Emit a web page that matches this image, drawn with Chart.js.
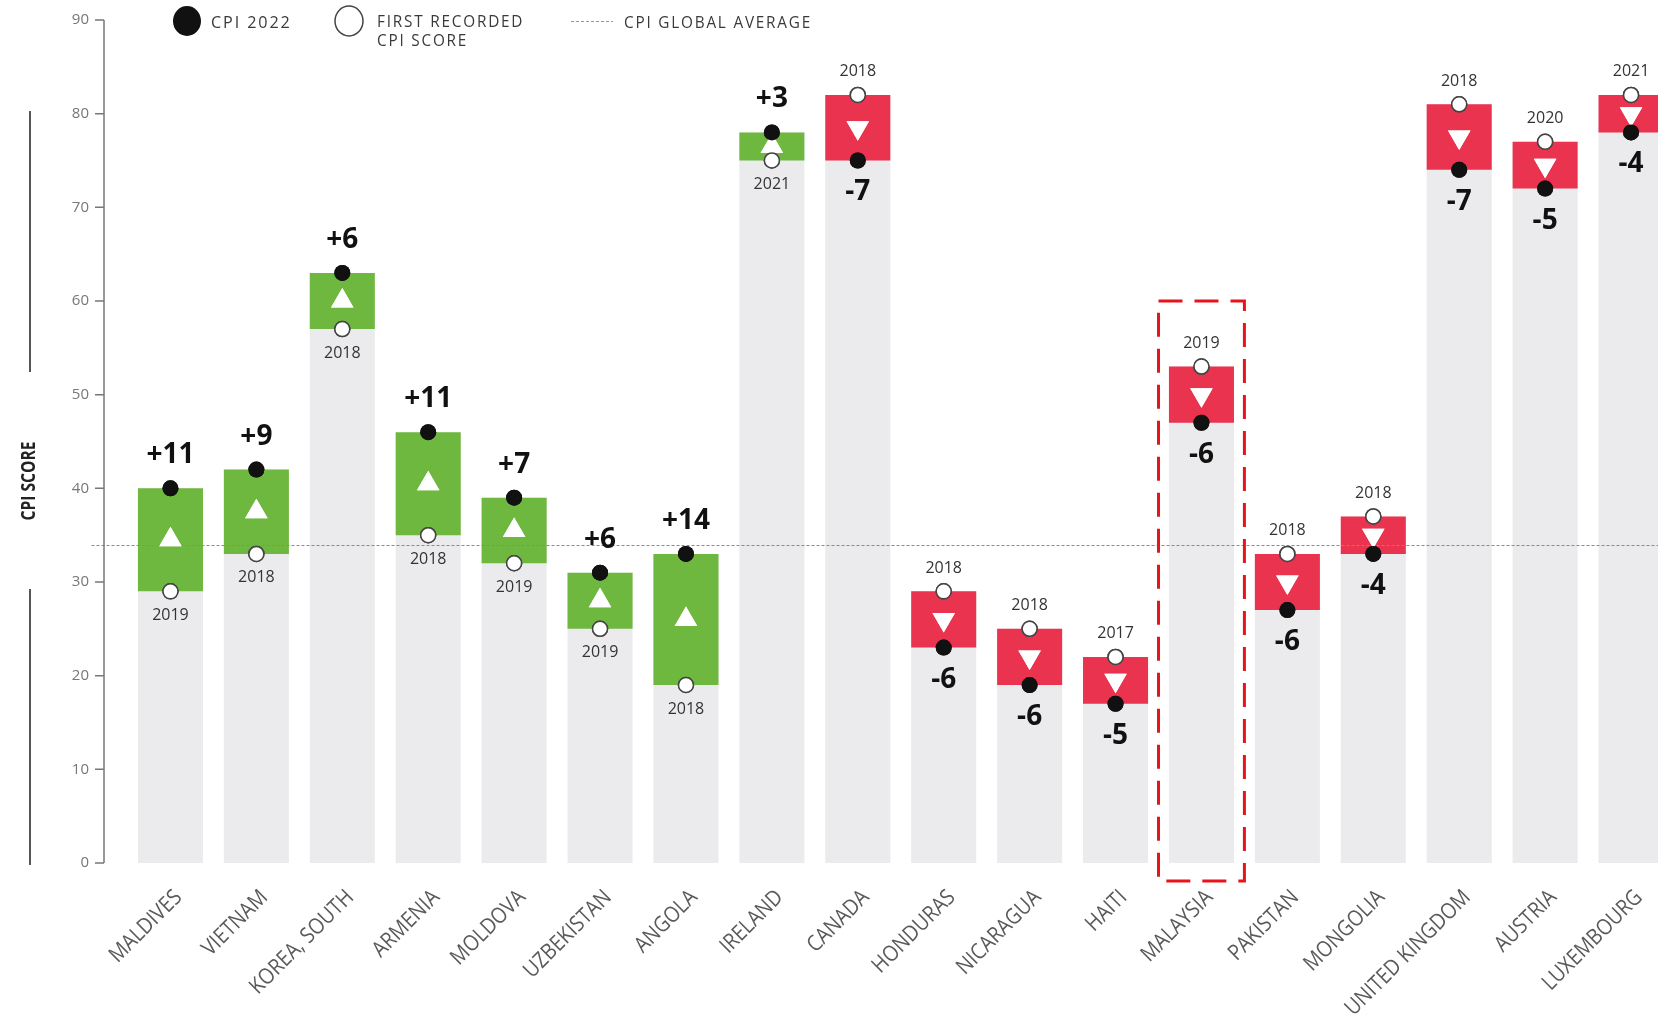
<!DOCTYPE html>
<html>
<head>
<meta charset="utf-8">
<script src="https://cdn.jsdelivr.net/npm/chart.js@4.4.1/dist/chart.umd.min.js"></script>
<style>
  html, body { margin: 0; padding: 0; background: #fff; overflow: hidden; }
  #wrap { width: 1658px; height: 1022px; overflow: hidden; position: relative; }
  #box { position: absolute; left: 0; top: 0; width: 1700px; height: 1022px; }
</style>
</head>
<body>
<div id="wrap"><div id="box"><canvas id="cpi"></canvas></div></div>
<script>
const countries = ['MALDIVES', 'VIETNAM', 'KOREA, SOUTH', 'ARMENIA', 'MOLDOVA', 'UZBEKISTAN', 'ANGOLA', 'IRELAND', 'CANADA',
  'HONDURAS', 'NICARAGUA', 'HAITI', 'MALAYSIA', 'PAKISTAN', 'MONGOLIA', 'UNITED KINGDOM', 'AUSTRIA', 'LUXEMBOURG'];
const cpi2022 = [40, 42, 63, 46, 39, 31, 33, 78, 75, 23, 19, 17, 47, 27, 33, 74, 72, 78];
const firstScore = [29, 33, 57, 35, 32, 25, 19, 75, 82, 29, 25, 22, 53, 33, 37, 81, 77, 82];
const firstYear = ['2019', '2018', '2018', '2018', '2019', '2019', '2018', '2021', '2018',
  '2018', '2018', '2017', '2019', '2018', '2018', '2018', '2020', '2021'];
const yTicks = [0, 10, 20, 30, 40, 50, 60, 70, 80, 90];
const globalAverage = 34;
const highlighted = 'MALAYSIA';

const GREEN = '#6fb83f', RED = '#e9334f', GREY = '#ebebed';
const SANS = "'Open Sans', sans-serif";

const rising = cpi2022.map((v, i) => v >= firstScore[i]);
const low = cpi2022.map((v, i) => Math.min(v, firstScore[i]));
const high = cpi2022.map((v, i) => Math.max(v, firstScore[i]));

// narrow text: squeeze glyphs horizontally around the anchor
function narrowText(ctx, text, x, y, sx) {
  ctx.save();
  ctx.translate(x, y);
  ctx.scale(sx, 1);
  ctx.fillText(text, 0, 0);
  ctx.restore();
}

const decor = {
  id: 'decor',
  afterDatasetsDraw(chart) {
    const { ctx, chartArea: a, scales: { x, y } } = chart;
    ctx.save();
    // global average
    const gy = Math.round(y.getPixelForValue(globalAverage)) + 0.5;
    ctx.strokeStyle = '#8a8a8a'; ctx.lineWidth = 1; ctx.setLineDash([3, 2]);
    ctx.beginPath(); ctx.moveTo(a.left - 36, gy); ctx.lineTo(chart.width, gy); ctx.stroke();
    ctx.setLineDash([]);

    // markers back on top of the dashed line
    [2, 3, 4].forEach(d => chart.getDatasetMeta(d).controller.draw());

    // change + first year labels
    ctx.textAlign = 'center'; ctx.textBaseline = 'middle';
    countries.forEach((c, i) => {
      const px = x.getPixelForValue(i);
      const py22 = y.getPixelForValue(cpi2022[i]);
      const pyF = y.getPixelForValue(firstScore[i]);
      const diff = cpi2022[i] - firstScore[i];
      ctx.fillStyle = '#111';
      ctx.font = 'bold 28px ' + SANS;
      ctx.fillText((diff > 0 ? '+' : '') + diff, px, rising[i] ? py22 - 33 : py22 + 32);
      ctx.fillStyle = '#333';
      ctx.font = '16px ' + SANS;
      ctx.fillText(firstYear[i], px, rising[i] ? pyF + 24 : pyF - 23);
    });

    // highlight box
    const hi = countries.indexOf(highlighted);
    const hx = x.getPixelForValue(hi);
    const half = (x.getPixelForValue(1) - x.getPixelForValue(0)) / 2;
    ctx.strokeStyle = '#e8141c'; ctx.lineWidth = 3; ctx.setLineDash([24, 12]);
    ctx.strokeRect(hx - half, y.getPixelForValue(60), half * 2, a.bottom + 18 - y.getPixelForValue(60));
    ctx.restore();
  },
  afterDraw(chart) {
    const { ctx, chartArea: a, scales: { x, y } } = chart;
    ctx.save();
    // category labels, rotated and narrow
    ctx.fillStyle = '#5a5a5a'; ctx.font = '22px ' + SANS;
    ctx.textAlign = 'right'; ctx.textBaseline = 'middle';
    countries.forEach((c, i) => {
      ctx.save();
      ctx.translate(x.getPixelForValue(i) + 8, a.bottom + 31);
      ctx.rotate(-Math.PI / 4);
      ctx.scale(0.88, 1);
      ctx.fillText(c, 0, 0);
      ctx.restore();
    });

    // y axis line, tick marks and tick labels
    const ax = a.left - 23.5;
    ctx.strokeStyle = '#777'; ctx.lineWidth = 1.5;
    ctx.beginPath();
    ctx.moveTo(ax, y.getPixelForValue(90)); ctx.lineTo(ax, y.getPixelForValue(0));
    yTicks.forEach(t => { const ty = y.getPixelForValue(t); ctx.moveTo(ax - 9, ty); ctx.lineTo(ax, ty); });
    ctx.stroke();
    ctx.fillStyle = '#777'; ctx.font = '15px ' + SANS;
    ctx.textAlign = 'right'; ctx.textBaseline = 'middle';
    yTicks.forEach(t => ctx.fillText(String(t), ax - 15, y.getPixelForValue(t)));

    // axis title with side rules
    const tx = 30, ty = 481;
    ctx.strokeStyle = '#555'; ctx.lineWidth = 2;
    ctx.beginPath();
    ctx.moveTo(tx, 111); ctx.lineTo(tx, 372);
    ctx.moveTo(tx, 589); ctx.lineTo(tx, a.bottom + 2);
    ctx.stroke();
    ctx.save();
    ctx.translate(tx, ty); ctx.rotate(-Math.PI / 2);
    ctx.fillStyle = '#222'; ctx.font = 'bold 19px ' + SANS;
    ctx.textAlign = 'center'; ctx.textBaseline = 'middle';
    narrowText(ctx, 'CPI SCORE', 0, 0, 0.82);
    ctx.restore();

    // legend
    ctx.textAlign = 'left'; ctx.textBaseline = 'middle';
    ctx.font = '17px ' + SANS;
    if ('letterSpacing' in ctx) ctx.letterSpacing = '2px';
    ctx.beginPath(); ctx.ellipse(187, 21, 14, 15, 0, 0, Math.PI * 2);
    ctx.fillStyle = '#111'; ctx.fill();
    ctx.fillStyle = '#3a3a3a';
    narrowText(ctx, 'CPI 2022', 211, 23, 0.95);
    ctx.beginPath(); ctx.ellipse(349, 21, 14, 15, 0, 0, Math.PI * 2);
    ctx.fillStyle = '#fff'; ctx.fill(); ctx.strokeStyle = '#444'; ctx.lineWidth = 1.5; ctx.stroke();
    ctx.fillStyle = '#3a3a3a';
    narrowText(ctx, 'FIRST RECORDED', 377, 22, 0.9);
    narrowText(ctx, 'CPI SCORE', 377, 41, 0.9);
    ctx.strokeStyle = '#999'; ctx.lineWidth = 1; ctx.setLineDash([3, 2]);
    ctx.beginPath(); ctx.moveTo(571, 21.5); ctx.lineTo(613, 21.5); ctx.stroke();
    ctx.setLineDash([]);
    narrowText(ctx, 'CPI GLOBAL AVERAGE', 624, 23, 0.9);
    ctx.restore();
  }
};

new Chart(document.getElementById('cpi'), {
  type: 'bar',
  data: {
    labels: countries,
    datasets: [
      { label: 'base', data: high.map(v => [0, v]), backgroundColor: GREY, grouped: false,
        barPercentage: 0.757, categoryPercentage: 1, borderWidth: 0, order: 5 },
      { label: 'change', data: low.map((v, i) => [v, high[i]]), grouped: false,
        backgroundColor: rising.map(r => r ? GREEN : RED),
        barPercentage: 0.757, categoryPercentage: 1, borderWidth: 0, order: 4 },
      { type: 'line', label: 'direction', data: low.map((v, i) => (v + high[i]) / 2), showLine: false,
        pointStyle: 'triangle', pointRadius: 13, pointRotation: rising.map(r => r ? 0 : 180),
        pointBackgroundColor: '#fff', pointBorderWidth: 0, order: 3 },
      { type: 'line', label: 'FIRST RECORDED CPI SCORE', data: firstScore, showLine: false,
        pointRadius: 7.5, pointBackgroundColor: '#fff', pointBorderColor: '#444', pointBorderWidth: 1.5, order: 2 },
      { type: 'line', label: 'CPI 2022', data: cpi2022, showLine: false,
        pointRadius: 8, pointBackgroundColor: '#111', pointBorderColor: '#111', pointBorderWidth: 0, order: 1 }
    ]
  },
  options: {
    responsive: true, maintainAspectRatio: false, animation: false,
    layout: { autoPadding: false, padding: { top: 20, right: 26, left: 0, bottom: 0 } },
    plugins: { legend: { display: false }, tooltip: { enabled: false } },
    scales: {
      x: {
        grid: { display: false, drawTicks: false }, border: { display: false },
        ticks: { display: false },
        afterFit: s => { s.height = 159; }
      },
      y: {
        min: 0, max: 90,
        grid: { display: false, drawTicks: false }, border: { display: false },
        afterBuildTicks: s => { s.ticks = yTicks.map(v => ({ value: v })); },
        ticks: { display: false },
        afterFit: s => { s.width = 127.5; }
      }
    }
  },
  plugins: [decor]
});
</script>
</body>
</html>
